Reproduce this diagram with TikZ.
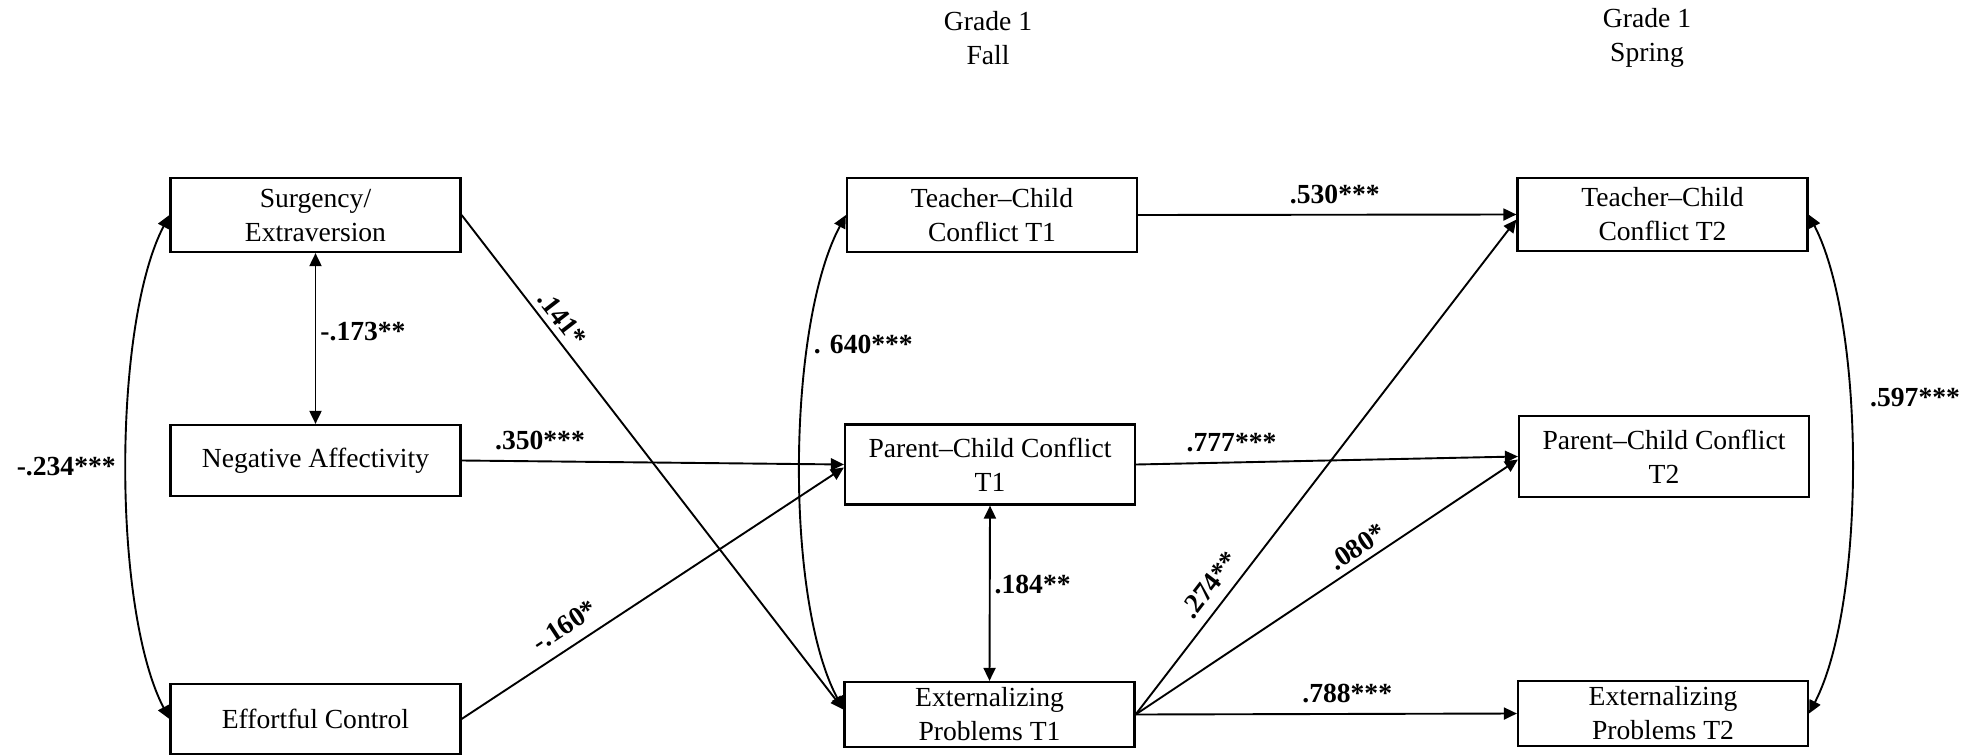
\documentclass[tikz,border=0pt]{standalone}
\usepackage{fontspec}
\setmainfont{Liberation Serif}
\usetikzlibrary{arrows.meta,calc}
\begin{document}
\begin{tikzpicture}[x=0.5pt,y=-0.5pt,
  txt/.style={font=\fontsize{13.8}{17}\selectfont},
  box/.style={txt, draw, line width=1.1pt, align=center, inner sep=0pt, minimum width=145pt},
  lab/.style={font=\fontsize{13.8}{17}\selectfont\bfseries, inner sep=2pt},
  arr/.style={line width=0.95pt, -{Triangle[length=6.5pt,width=6pt]}},
  darr/.style={line width=0.95pt, {Triangle[length=6.5pt,width=6pt]}-{Triangle[length=6.5pt,width=6pt]}},
]
\useasboundingbox (0,0) rectangle (1982,755);

% headers
\node[txt, align=center] (gfall) at (988,38) {Grade 1\\Fall};
\node[txt, align=center] (gspring) at (1647,38) {Grade 1\\Spring};

% boxes
\node[box, minimum height=37pt] (S) at (315.5,215) {Surgency/\\Extraversion};
\node[box, minimum height=35.5pt] (NA) at (315.5,460.5) {Negative Affectivity};
\node[box, minimum height=35pt] (EC) at (315.5,719) {Effortful Control};

\node[box, minimum height=37pt] (TC1) at (992,215) {Teacher–Child\\Conflict T1};
\node[box, minimum height=40pt] (PC1) at (990,464.5) {Parent–Child Conflict\\T1};
\node[box, minimum height=32.5pt] (EX1) at (989.5,714.5) {Externalizing\\Problems T1};

\node[box, minimum height=36.5pt] (TC2) at (1662.5,214.5) {Teacher–Child\\Conflict T2};
\node[box, minimum height=40.5pt] (PC2) at (1664,456.5) {Parent–Child Conflict\\T2};
\node[box, minimum height=32.5pt] (EX2) at (1663,713.5) {Externalizing\\Problems T2};

\coordinate (EX1in) at ($(EX1.west)+(0,-5)$);
\coordinate (PC1in) at ($(PC1.west)+(0,3)$);
\coordinate (TC2in) at ($(TC2.west)+(0,5)$);
\coordinate (PC2in) at ($(PC2.west)+(0,3)$);

% left block
\draw[darr] (S.south) -- node[lab, right, pos=0.46] (l173) {-.173**} (NA.north);
\draw[darr] (S.west) .. controls +(-57,110) and +(-57,-110) .. node[lab, left=3pt, pos=0.5] (l234) {-.234***} (EC.west);
\draw[arr] (S.east) -- node[lab, sloped, above=1pt, pos=0.23] (l141) {.141*} (EX1in);
\draw[arr] (NA.east) -- node[lab, above=3pt, pos=0.205] (l350) {.350***} (PC1.west);
\draw[arr] (EC.east) -- node[lab, sloped, above=3.5pt, pos=0.30] (l160) {-.160*} (PC1in);

% middle block
\draw[darr] (TC1.west) .. controls +(-59,110) and +(-59,-110) .. node[lab, anchor=west, pos=0.29] (l640) {. 640***} (EX1in);
\draw[darr] (PC1.south) -- node[lab, right, pos=0.45] (l184) {.184**} (EX1.north);

% to T2
\draw[arr] (TC1.east) -- node[lab, above=3pt, pos=0.52] (l530) {.530***} (TC2.west);
\draw[arr] (PC1.east) -- node[lab, above=3pt, pos=0.25] (l777) {.777***} (PC2.west);
\draw[arr] (EX1.east) -- node[lab, sloped, above=3pt, pos=0.237] (l274) {.274**} (TC2in);
\draw[arr] (EX1.east) -- node[lab, sloped, above=1pt, pos=0.604] (l080) {.080*} (PC2in);
\draw[arr] (EX1.east) -- node[lab, above=3pt, pos=0.555] (l788) {.788***} (EX2.west);

% right covariance
\draw[darr] (TC2.east) .. controls +(57,110) and +(57,-110) .. node[lab, anchor=west, xshift=8pt, pos=0.385] (l597) {.597***} (EX2.east);
\end{tikzpicture}
\end{document}
